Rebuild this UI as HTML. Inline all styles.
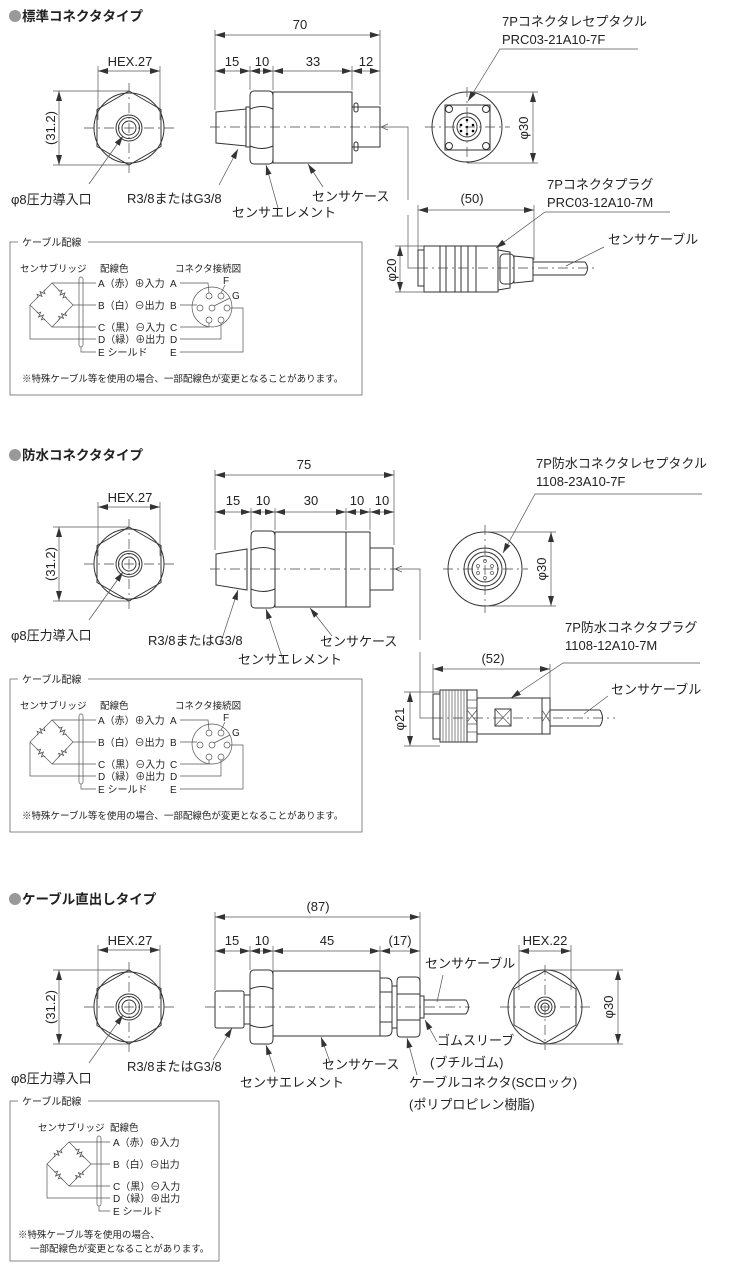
<!DOCTYPE html>
<html><head><meta charset="utf-8"><style>
html,body{margin:0;padding:0;background:#fff}
svg{display:block}
text{font-family:"Liberation Sans","Noto Sans CJK JP",sans-serif;fill:#222}
.l{stroke:#333;stroke-width:1;fill:none}
.t{stroke:#555;stroke-width:.7;fill:none}
.c{stroke:#444;stroke-width:.7;fill:none;stroke-dasharray:10 4 2 4}
.f{stroke:#333;stroke-width:1;fill:#fff}
</style></head><body>
<svg width="745" height="1280" viewBox="0 0 745 1280" xmlns="http://www.w3.org/2000/svg">
<defs>
<marker id="a" viewBox="0 0 10 6" refX="10" refY="3" markerWidth="10" markerHeight="6" orient="auto-start-reverse" markerUnits="userSpaceOnUse"><path d="M0,0 L10,3 L0,6 z" fill="#333"/></marker>
<path id="zig" d="M-6,0 L-4,0 L-3,-2.5 L-1,2.5 L1,-2.5 L3,2.5 L4,0 L6,0" fill="#fff" stroke="#444" stroke-width=".7"/>
<g id="front">
<circle class="l" r="35"/>
<polygon class="l" points="0,-37 32,-18.5 32,18.5 0,37 -32,18.5 -32,-18.5"/>
<circle class="l" r="13"/><circle class="l" r="10.5"/><circle class="l" r="7"/>
<line class="c" x1="-45" y1="0" x2="45" y2="0"/><line class="c" x1="0" y1="-45" x2="0" y2="45"/>
<line class="t" x1="-31" y1="-62" x2="-31" y2="-8"/><line class="t" x1="31" y1="-62" x2="31" y2="-8"/>
<line class="t" x1="-31" y1="-57" x2="31" y2="-57" marker-start="url(#a)" marker-end="url(#a)"/>
<line class="t" x1="-76" y1="-37" x2="0" y2="-37"/><line class="t" x1="-76" y1="37" x2="0" y2="37"/>
<line class="t" x1="-70" y1="-37" x2="-70" y2="37" marker-start="url(#a)" marker-end="url(#a)"/>
<text x="1" y="-62" font-size="13" text-anchor="middle">HEX.27</text>
<text transform="translate(-74,0) rotate(-90)" font-size="13" text-anchor="middle">(31.2)</text>
<line class="t" x1="-40" y1="56" x2="-6" y2="8" marker-end="url(#a)"/>
<text x="-118" y="76" font-size="13">φ8圧力導入口</text>
</g>
<g id="bridge">
<use href="#zig" transform="translate(31,52) rotate(-45)"/>
<use href="#zig" transform="translate(52.5,52) rotate(45)"/>
<use href="#zig" transform="translate(31,74) rotate(45)"/>
<use href="#zig" transform="translate(52.5,74) rotate(-45)"/>
</g>
<g id="wire">
<rect class="t" x="0" y="0" width="352" height="153"/>
<rect x="8" y="-6" width="70" height="12" fill="#fff"/>
<text x="12" y="4" font-size="10">ケーブル配線</text>
<text x="10" y="30" font-size="9.5">センサブリッジ</text>
<text x="90" y="30" font-size="9.5">配線色</text>
<g class="t">
<polygon points="42,41 20,63 42,85 63,63"/>
<path d="M20,63 L20,97 L86,97 M42,41 L86,41 M63,63 L86,63 M42,85 L86,85 M71,105 L71,110 L86,110"/>
<rect x="69" y="35" width="4" height="70" rx="2"/>
</g>
<use href="#bridge"/>
<text x="88" y="45" font-size="10">A（赤）⊕入力</text>
<text x="88" y="67" font-size="10">B（白）⊖出力</text>
<text x="88" y="89" font-size="10">C（黒）⊖入力</text>
<text x="88" y="101" font-size="10">D（緑）⊕出力</text>
<text x="88" y="114" font-size="10">E シールド</text>
</g>
<g id="conn">
<text x="0" y="0" font-size="9.5">コネクタ接続図</text>
<text x="-5" y="15" font-size="10">A</text><text x="-5" y="37" font-size="10">B</text><text x="-5" y="59" font-size="10">C</text><text x="-5" y="71" font-size="10">D</text><text x="-5" y="84" font-size="10">E</text>
<g class="t">
<circle cx="37" cy="35" r="20"/>
<circle cx="34" cy="24" r="3"/><circle cx="46" cy="24" r="3"/><circle cx="25" cy="36" r="3"/><circle cx="37" cy="36" r="3"/><circle cx="52" cy="36" r="3"/><circle cx="34" cy="48" r="3"/><circle cx="46" cy="48" r="3"/>
<path d="M5,11 L33,11 L34,21 M5,33 L22,33 M5,55 L34,55 L34,51 M5,67 L46,67 L46,51 M5,80 L68,80 L68,36 L55,36 M46,21 L50,13 M39,34 L55,26"/>
</g>
<text x="48" y="12" font-size="10">F</text><text x="57" y="27" font-size="10">G</text>
</g>
</defs>

<!-- Section 1 -->
<circle cx="15" cy="16" r="6" fill="#999"/>
<text x="22" y="21" font-size="13.5" font-weight="bold">標準コネクタタイプ</text>
<use href="#front" x="129" y="128"/>
<g>
<line class="t" x1="215" y1="30" x2="215" y2="110"/><line class="t" x1="380" y1="30" x2="380" y2="105"/>
<line class="t" x1="250" y1="66" x2="250" y2="90"/><line class="t" x1="273" y1="66" x2="273" y2="90"/><line class="t" x1="352" y1="66" x2="352" y2="90"/>
<line class="t" x1="215" y1="35" x2="380" y2="35" marker-start="url(#a)" marker-end="url(#a)"/>
<line class="t" x1="215" y1="71" x2="250" y2="71" marker-start="url(#a)" marker-end="url(#a)"/>
<line class="t" x1="250" y1="71" x2="273" y2="71" marker-start="url(#a)" marker-end="url(#a)"/>
<line class="t" x1="273" y1="71" x2="352" y2="71" marker-start="url(#a)" marker-end="url(#a)"/>
<line class="t" x1="352" y1="71" x2="380" y2="71" marker-start="url(#a)" marker-end="url(#a)"/>
<text x="300" y="29" font-size="13" text-anchor="middle">70</text>
<text x="232" y="66" font-size="13" text-anchor="middle">15</text><text x="262" y="66" font-size="13" text-anchor="middle">10</text>
<text x="313" y="66" font-size="13" text-anchor="middle">33</text><text x="366" y="66" font-size="13" text-anchor="middle">12</text>
<path class="l" d="M216,112 L246,109 L246,146 L216,143 Z"/><rect class="l" x="246" y="107" width="4" height="40"/>
<path class="l" d="M254,91 L269,91 Q273,91 273,96 L273,159 Q273,164 269,164 L254,164 Q250,164 250,159 L250,96 Q250,91 254,91 Z M250,109 Q262,104 273,109 M250,146 Q262,151 273,146"/>
<rect class="l" x="273" y="92" width="79" height="71"/>
<rect class="l" x="352" y="107" width="28" height="40"/>
<rect class="l" x="354" y="103" width="4" height="9" rx="2"/><rect class="l" x="354" y="142" width="4" height="9" rx="2"/>
<line class="c" x1="210" y1="127" x2="386" y2="127"/>
<path class="t" d="M380,127 L408,127 L408,200 M408,215 L408,268 L418,268"/>
<path class="t" d="M388,124 L381,127 L388,130"/>
<line class="t" x1="219" y1="185" x2="238" y2="149" marker-end="url(#a)"/>
<line class="t" x1="278" y1="208" x2="266" y2="165" marker-end="url(#a)"/>
<line class="t" x1="323" y1="187" x2="308" y2="164" marker-end="url(#a)"/>
<text x="127" y="203" font-size="13">R3/8またはG3/8</text>
<text x="232" y="217" font-size="13">センサエレメント</text>
<text x="312" y="201" font-size="13">センサケース</text>
</g>
<g>
<circle class="l" cx="467" cy="127" r="35"/>
<rect class="l" x="445" y="105" width="45" height="45"/>
<circle class="l" cx="467" cy="127" r="14"/><circle class="l" cx="467" cy="127" r="10"/>
<circle class="l" cx="449" cy="109" r="3.5"/><circle class="l" cx="486" cy="109" r="3.5"/><circle class="l" cx="449" cy="146" r="3.5"/><circle class="l" cx="486" cy="146" r="3.5"/>
<circle cx="467" cy="120" r="1.3"/><circle cx="461" cy="125" r="1.3"/><circle cx="473" cy="125" r="1.3"/><circle cx="467" cy="127" r="1.3"/><circle cx="461" cy="131" r="1.3"/><circle cx="473" cy="131" r="1.3"/><circle cx="467" cy="134" r="1.3"/>
<line class="c" x1="425" y1="127" x2="510" y2="127"/><line class="c" x1="467" y1="87" x2="467" y2="167"/>
<line class="t" x1="467" y1="92" x2="538" y2="92"/><line class="t" x1="467" y1="163" x2="538" y2="163"/>
<line class="t" x1="533" y1="92" x2="533" y2="163" marker-start="url(#a)" marker-end="url(#a)"/>
<text transform="translate(528,128) rotate(-90)" font-size="13" text-anchor="middle">φ30</text>
<text x="502" y="26" font-size="13">7Pコネクタレセプタクル</text>
<text x="502" y="44" font-size="13">PRC03-21A10-7F</text>
<path class="t" d="M638,49 L500,49 L468,101" marker-end="url(#a)"/>
</g>
<g>
<line class="t" x1="418" y1="205" x2="418" y2="250"/><line class="t" x1="534" y1="205" x2="534" y2="260"/>
<line class="t" x1="418" y1="210" x2="534" y2="210" marker-start="url(#a)" marker-end="url(#a)"/>
<text x="472" y="203" font-size="13" text-anchor="middle">(50)</text>
<text x="547" y="189" font-size="13">7Pコネクタプラグ</text>
<text x="547" y="207" font-size="13">PRC03-12A10-7M</text>
<path class="t" d="M670,212 L545,212 L496,248" marker-end="url(#a)"/>
<rect class="l" x="418" y="250" width="6" height="36"/>
<rect class="l" x="424" y="246" width="74" height="46"/>
<path class="l" d="M440,246 L440,292 M446,246 L446,292 M455,246 L455,292 M461,246 L461,292 M468,246 L468,292 M476,246 L476,292"/>
<path class="l" d="M498,250 L510,252 L510,288 L498,290 Z"/>
<rect class="l" x="500" y="254" width="14" height="30" rx="4"/>
<path class="l" d="M514,256 L533,258 L533,281 L514,283 Z"/>
<path class="l" d="M533,262 L585,262 M533,275 L585,275 M585,262 Q590,268 585,275"/>
<line class="c" x1="418" y1="268" x2="595" y2="268"/>
<line class="t" x1="395" y1="246" x2="424" y2="246"/><line class="t" x1="395" y1="292" x2="424" y2="292"/>
<line class="t" x1="400" y1="246" x2="400" y2="292" marker-start="url(#a)" marker-end="url(#a)"/>
<text transform="translate(396,270) rotate(-90)" font-size="13" text-anchor="middle">φ20</text>
<text x="608" y="244" font-size="13">センサケーブル</text>
<line class="t" x1="604" y1="247" x2="566" y2="266"/>
</g>
<use href="#wire" x="10" y="242"/>
<use href="#conn" x="175" y="272"/>
<text x="22" y="382" font-size="9.5">※特殊ケーブル等を使用の場合、一部配線色が変更となることがあります。</text>

<!-- Section 2 -->
<circle cx="15" cy="455" r="6" fill="#999"/>
<text x="22" y="460" font-size="13.5" font-weight="bold">防水コネクタタイプ</text>
<use href="#front" x="129" y="564"/>
<g>
<line class="t" x1="215" y1="470" x2="215" y2="550"/><line class="t" x1="394" y1="470" x2="394" y2="545"/>
<line class="t" x1="251" y1="508" x2="251" y2="530"/><line class="t" x1="275" y1="508" x2="275" y2="530"/><line class="t" x1="346" y1="508" x2="346" y2="530"/><line class="t" x1="370" y1="508" x2="370" y2="530"/>
<line class="t" x1="215" y1="475" x2="394" y2="475" marker-start="url(#a)" marker-end="url(#a)"/>
<line class="t" x1="215" y1="512" x2="251" y2="512" marker-start="url(#a)" marker-end="url(#a)"/>
<line class="t" x1="251" y1="512" x2="275" y2="512" marker-start="url(#a)" marker-end="url(#a)"/>
<line class="t" x1="275" y1="512" x2="346" y2="512" marker-start="url(#a)" marker-end="url(#a)"/>
<line class="t" x1="346" y1="512" x2="370" y2="512" marker-start="url(#a)" marker-end="url(#a)"/>
<line class="t" x1="370" y1="512" x2="394" y2="512" marker-start="url(#a)" marker-end="url(#a)"/>
<text x="304" y="469" font-size="13" text-anchor="middle">75</text>
<text x="233" y="505" font-size="13" text-anchor="middle">15</text><text x="263" y="505" font-size="13" text-anchor="middle">10</text>
<text x="311" y="505" font-size="13" text-anchor="middle">30</text><text x="357" y="505" font-size="13" text-anchor="middle">10</text><text x="382" y="505" font-size="13" text-anchor="middle">10</text>
<path class="l" d="M216,554 L247,549 L247,590 L216,585 Z"/>
<path class="l" d="M255,531 L271,531 Q275,531 275,536 L275,603 Q275,608 271,608 L255,608 Q251,608 251,603 L251,536 Q251,531 255,531 Z M251,550 Q263,545 275,550 M251,589 Q263,594 275,589"/>
<rect class="l" x="275" y="532" width="95" height="75"/><line class="l" x1="346" y1="532" x2="346" y2="607"/>
<rect class="l" x="370" y="548" width="23" height="42"/>
<line class="c" x1="210" y1="569" x2="398" y2="569"/>
<path class="t" d="M394,569 L420,569 L420,640 M420,652 L420,718 L433,718"/>
<path class="t" d="M402,566 L395,569 L402,572"/>
<line class="t" x1="220" y1="645" x2="238" y2="590" marker-end="url(#a)"/>
<line class="t" x1="283" y1="660" x2="266" y2="609" marker-end="url(#a)"/>
<line class="t" x1="332" y1="636" x2="310" y2="608" marker-end="url(#a)"/>
<text x="148" y="645" font-size="13">R3/8またはG3/8</text>
<text x="238" y="664" font-size="13">センサエレメント</text>
<text x="320" y="646" font-size="13">センサケース</text>
</g>
<g>
<circle class="l" cx="485" cy="569" r="37"/>
<circle class="l" cx="485" cy="569" r="21"/><circle class="l" cx="485" cy="569" r="17"/><circle class="l" cx="485" cy="569" r="13"/>
<circle class="t" cx="485" cy="561" r="1.5"/><circle class="t" cx="478" cy="566" r="1.5"/><circle class="t" cx="492" cy="566" r="1.5"/><circle class="t" cx="478" cy="573" r="1.5"/><circle class="t" cx="492" cy="573" r="1.5"/><circle class="t" cx="485" cy="578" r="1.5"/>
<line class="c" x1="443" y1="569" x2="528" y2="569"/><line class="c" x1="485" y1="525" x2="485" y2="613"/>
<line class="t" x1="485" y1="532" x2="556" y2="532"/><line class="t" x1="485" y1="606" x2="556" y2="606"/>
<line class="t" x1="551" y1="532" x2="551" y2="606" marker-start="url(#a)" marker-end="url(#a)"/>
<text transform="translate(546,569) rotate(-90)" font-size="13" text-anchor="middle">φ30</text>
<text x="536" y="468" font-size="13">7P防水コネクタレセプタクル</text>
<text x="536" y="486" font-size="13">1108-23A10-7F</text>
<path class="t" d="M702,494 L535,494 L503,553" marker-end="url(#a)"/>
</g>
<g>
<line class="t" x1="433" y1="664" x2="433" y2="693"/><line class="t" x1="550" y1="664" x2="550" y2="700"/>
<line class="t" x1="433" y1="669" x2="550" y2="669" marker-start="url(#a)" marker-end="url(#a)"/>
<text x="493" y="663" font-size="13" text-anchor="middle">(52)</text>
<text x="565" y="632" font-size="13">7P防水コネクタプラグ</text>
<text x="565" y="650" font-size="13">1108-12A10-7M</text>
<path class="t" d="M700,663 L563,663 L511,698" marker-end="url(#a)"/>
<rect class="l" x="433" y="694" width="7" height="45"/>
<rect class="l" x="440" y="690" width="27" height="52"/>
<path class="t" d="M443,690 L443,742 M446,690 L446,742 M449,690 L449,742 M452,690 L452,742 M455,690 L455,742 M458,690 L458,742 M461,690 L461,742 M464,690 L464,742"/>
<rect class="l" x="467" y="690" width="10" height="52"/>
<path class="t" d="M467,700 L477,700 M467,708 L477,708 M467,724 L477,724 M467,732 L477,732 M467,710 L477,722 M477,710 L467,722"/>
<rect class="l" x="477" y="698" width="73" height="36"/>
<rect class="l" x="495" y="709" width="16" height="17"/><path class="t" d="M495,709 L511,726 M511,709 L495,726"/>
<rect class="l" x="542" y="698" width="8" height="36"/><path class="t" d="M542,710 L550,722 M550,710 L542,722"/>
<path class="l" d="M550,710 L600,710 M550,726 L600,726 M600,710 Q605,718 600,726"/>
<line class="c" x1="433" y1="718" x2="615" y2="718"/>
<line class="t" x1="404" y1="692" x2="440" y2="692"/><line class="t" x1="404" y1="746" x2="440" y2="746"/>
<line class="t" x1="410" y1="692" x2="410" y2="746" marker-start="url(#a)" marker-end="url(#a)"/>
<text transform="translate(404,719) rotate(-90)" font-size="13" text-anchor="middle">φ21</text>
<text x="611" y="694" font-size="13">センサケーブル</text>
<line class="t" x1="608" y1="696" x2="584" y2="714"/>
</g>
<use href="#wire" x="10" y="679"/>
<use href="#conn" x="175" y="709"/>
<text x="22" y="819" font-size="9.5">※特殊ケーブル等を使用の場合、一部配線色が変更となることがあります。</text>

<!-- Section 3 -->
<circle cx="15" cy="899" r="6" fill="#999"/>
<text x="22" y="904" font-size="13.5" font-weight="bold">ケーブル直出しタイプ</text>
<use href="#front" x="129" y="1007"/>
<g>
<line class="t" x1="215" y1="912" x2="215" y2="990"/><line class="t" x1="420" y1="912" x2="420" y2="990"/>
<line class="t" x1="250" y1="946" x2="250" y2="970"/><line class="t" x1="273" y1="946" x2="273" y2="970"/><line class="t" x1="380" y1="946" x2="380" y2="970"/>
<line class="t" x1="215" y1="917" x2="420" y2="917" marker-start="url(#a)" marker-end="url(#a)"/>
<line class="t" x1="215" y1="951" x2="250" y2="951" marker-start="url(#a)" marker-end="url(#a)"/>
<line class="t" x1="250" y1="951" x2="273" y2="951" marker-start="url(#a)" marker-end="url(#a)"/>
<line class="t" x1="273" y1="951" x2="380" y2="951" marker-start="url(#a)" marker-end="url(#a)"/>
<line class="t" x1="380" y1="951" x2="420" y2="951" marker-start="url(#a)" marker-end="url(#a)"/>
<text x="318" y="911" font-size="13" text-anchor="middle">(87)</text>
<text x="232" y="945" font-size="13" text-anchor="middle">15</text><text x="262" y="945" font-size="13" text-anchor="middle">10</text>
<text x="327" y="945" font-size="13" text-anchor="middle">45</text><text x="400" y="945" font-size="13" text-anchor="middle">(17)</text>
<rect class="l" x="215" y="991" width="29" height="37" rx="2"/><rect class="l" x="244" y="995" width="6" height="29"/>
<path class="l" d="M254,970 L269,970 Q273,970 273,975 L273,1039 Q273,1044 269,1044 L254,1044 Q250,1044 250,1039 L250,975 Q250,970 254,970 Z M250,989 Q262,984 273,989 M250,1025 Q262,1030 273,1025"/>
<rect class="l" x="273" y="971" width="107" height="65"/>
<path class="l" d="M380,978 L386,978 Q392,978 392,984 L392,1030 Q392,1036 386,1036 L380,1036 Z M380,992 L392,992 M380,1022 L392,1022"/>
<rect class="l" x="392" y="986" width="5" height="42"/>
<path class="l" d="M400,977 L416,977 Q420,977 420,982 L420,1032 Q420,1037 416,1037 L400,1037 Q397,1037 397,1032 L397,982 Q397,977 400,977 Z M397,994 L420,994 M397,1020 L420,1020"/>
<rect class="l" x="420" y="996" width="4" height="22"/>
<path class="l" d="M424,1000 L466,1000 M424,1014 L466,1014 M466,1000 Q471,1007 466,1014"/>
<line class="c" x1="205" y1="1007" x2="470" y2="1007"/>
<line class="t" x1="213" y1="1060" x2="232" y2="1028" marker-end="url(#a)"/>
<line class="t" x1="275" y1="1072" x2="266" y2="1045" marker-end="url(#a)"/>
<line class="t" x1="330" y1="1062" x2="321" y2="1037" marker-end="url(#a)"/>
<line class="t" x1="417" y1="1075" x2="407" y2="1038" marker-end="url(#a)"/>
<line class="t" x1="437" y1="1042" x2="425" y2="1020" marker-end="url(#a)"/>
<line class="t" x1="443" y1="975" x2="437" y2="1002"/>
<text x="127" y="1071" font-size="13">R3/8またはG3/8</text>
<text x="240" y="1087" font-size="13">センサエレメント</text>
<text x="322" y="1069" font-size="13">センサケース</text>
<text x="425" y="968" font-size="13">センサケーブル</text>
<text x="437" y="1045" font-size="13">ゴムスリーブ</text>
<text x="430" y="1067" font-size="13">(ブチルゴム)</text>
<text x="409" y="1087" font-size="13">ケーブルコネクタ(SCロック)</text>
<text x="409" y="1109" font-size="13">(ポリプロピレン樹脂)</text>
</g>
<g>
<circle class="l" cx="545" cy="1007" r="37"/>
<polygon class="l" points="545,971 576,989 576,1025 545,1043 514,1025 514,989"/>
<circle class="l" cx="545" cy="1007" r="10"/><circle class="l" cx="545" cy="1007" r="7"/><circle class="l" cx="545" cy="1007" r="4"/>
<line class="c" x1="500" y1="1007" x2="590" y2="1007"/><line class="c" x1="545" y1="965" x2="545" y2="1050"/>
<line class="t" x1="519" y1="945" x2="519" y2="990"/><line class="t" x1="571" y1="945" x2="571" y2="990"/>
<line class="t" x1="519" y1="951" x2="571" y2="951" marker-start="url(#a)" marker-end="url(#a)"/>
<text x="545" y="945" font-size="13" text-anchor="middle">HEX.22</text>
<line class="t" x1="545" y1="970" x2="623" y2="970"/><line class="t" x1="545" y1="1044" x2="623" y2="1044"/>
<line class="t" x1="618" y1="970" x2="618" y2="1044" marker-start="url(#a)" marker-end="url(#a)"/>
<text transform="translate(613,1007) rotate(-90)" font-size="13" text-anchor="middle">φ30</text>
</g>
<g transform="translate(10,1101)">
<rect class="t" x="0" y="0" width="209" height="160"/>
<rect x="8" y="-6" width="70" height="12" fill="#fff"/>
<text x="12" y="4" font-size="10">ケーブル配線</text>
<text x="28" y="30" font-size="9.5">センサブリッジ</text>
<text x="100" y="30" font-size="9.5">配線色</text>
<g class="t">
<polygon points="59,41 37,63 59,85 81,63"/>
<path d="M37,63 L37,97 L100,97 M59,41 L100,41 M81,63 L100,63 M59,85 L100,85 M89,105 L89,110 L100,110"/>
<rect x="87" y="35" width="4" height="70" rx="2"/>
</g>
<use href="#bridge" x="17"/>
<text x="103" y="45" font-size="10">A（赤）⊕入力</text>
<text x="103" y="67" font-size="10">B（白）⊖出力</text>
<text x="103" y="89" font-size="10">C（黒）⊖入力</text>
<text x="103" y="101" font-size="10">D（緑）⊕出力</text>
<text x="103" y="114" font-size="10">E シールド</text>
<text x="8" y="137" font-size="9.5">※特殊ケーブル等を使用の場合、</text>
<text x="20" y="151" font-size="9.5">一部配線色が変更となることがあります。</text>
</g>
</svg>
</body></html>
